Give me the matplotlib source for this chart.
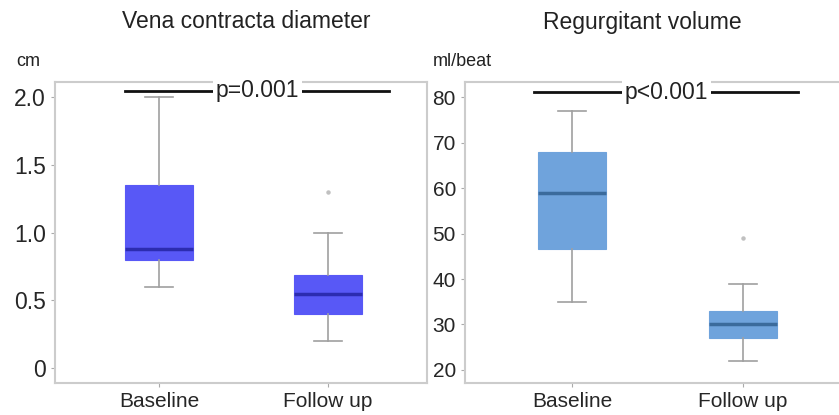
import matplotlib
matplotlib.use("Agg")
import matplotlib.pyplot as plt

plt.rcParams['font.family'] = ['Liberation Sans', 'DejaVu Sans']

groups = ['Baseline', 'Follow up']

# box summaries: whislo, q1, med, q3, whishi, outliers
vc_stats = [
    dict(whislo=0.6, q1=0.8, med=0.88, q3=1.35, whishi=2.0, fliers=[]),
    dict(whislo=0.2, q1=0.4, med=0.55, q3=0.69, whishi=1.0, fliers=[1.3]),
]
rv_stats = [
    dict(whislo=35, q1=46.5, med=59, q3=68, whishi=77, fliers=[]),
    dict(whislo=22, q1=27, med=30, q3=33, whishi=39, fliers=[49]),
]
vc_ticks = [0, 0.5, 1.0, 1.5, 2.0]
vc_ticklabels = ['0', '0.5', '1.0', '1.5', '2.0']
rv_ticks = [20, 30, 40, 50, 60, 70, 80]

fig = plt.figure(figsize=(8.39, 4.15), dpi=100)
ax1 = fig.add_axes([0.0656, 0.0771, 0.4434, 0.7253])
ax2 = fig.add_axes([0.5542, 0.0771, 0.4458, 0.7253])


def draw(ax, stats, face, medc, ysize):
    ax.bxp(stats, positions=[1, 2], widths=0.4, capwidths=0.16, patch_artist=True,
           boxprops=dict(facecolor=face, edgecolor=face, linewidth=0.8),
           medianprops=dict(color=medc, linewidth=2.5),
           whiskerprops=dict(color='#a0a0a0', linewidth=1.2),
           capprops=dict(color='#a0a0a0', linewidth=1.2),
           flierprops=dict(marker='o', markersize=2.2, markerfacecolor='#c0c0c0',
                           markeredgecolor='#c0c0c0'))
    for s in ax.spines.values():
        s.set_color('#cccccc')
        s.set_linewidth(1.5)
    ax.tick_params(axis='both', colors='#aaaaaa', labelcolor='#262626',
                   labelsize=15, length=3, width=0.8)
    ax.tick_params(axis='y', labelsize=ysize)
    ax.set_xticks([1, 2])
    ax.set_xticklabels(groups)


draw(ax1, vc_stats, '#5858f6', '#2c2cb0', 16.5)
ax1.set_xlim(0.385, 2.586)
ax1.set_ylim(-0.11, 2.11)
ax1.set_yticks(vc_ticks)
ax1.set_yticklabels(vc_ticklabels)
ax1.plot([0.8, 2.36], [2.044, 2.044], color='#111111', lw=2, clip_on=False)
ax1.text(1.58, 2.044, 'p=0.001', ha='center', va='center', fontsize=16.5, color='#222222',
         bbox=dict(facecolor='white', edgecolor='none', pad=2))

draw(ax2, rv_stats, '#6fa3dc', '#3b6b9c', 15)
ax2.set_xlim(0.374, 2.56)
ax2.set_ylim(17.14, 83.3)
ax2.set_yticks(rv_ticks)
ax2.spines['right'].set_visible(False)
ax2.plot([0.78, 2.32], [81.1, 81.1], color='#111111', lw=2, clip_on=False)
ax2.text(1.55, 81.1, 'p<0.001', ha='center', va='center', fontsize=16.5, color='#222222',
         bbox=dict(facecolor='white', edgecolor='none', pad=2))

fig.text(246 / 839, 1 - 22 / 415, 'Vena contracta diameter', ha='center', va='center',
         fontsize=16.5, color='#222222')
fig.text(642 / 839, 1 - 22 / 415, 'Regurgitant volume', ha='center', va='center',
         fontsize=16.5, color='#222222')
fig.text(28 / 839, 1 - 62 / 415, 'cm', ha='center', va='center', fontsize=13, color='#222222')
fig.text(462 / 839, 1 - 62 / 415, 'ml/beat', ha='center', va='center', fontsize=13,
         color='#222222')

fig.savefig('out.png', dpi=100, facecolor='white')
